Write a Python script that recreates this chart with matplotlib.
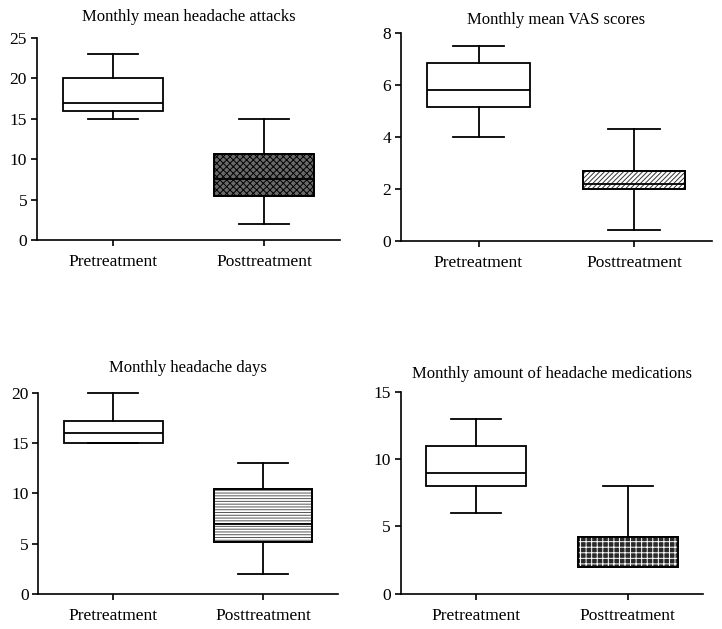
import matplotlib
matplotlib.use("Agg")
import matplotlib.pyplot as plt
from matplotlib.patches import PathPatch

plt.rcParams['font.family'] = ['Liberation Serif', 'DejaVu Serif']

groups = ['Pretreatment', 'Posttreatment']

titles = ['Monthly mean headache attacks', 'Monthly mean VAS scores',
          'Monthly headache days', 'Monthly amount of headache medications']

# per panel: [pre, post]
whislo = [[15, 2], [4.0, 0.4], [15, 2], [6, 2]]
q1 = [[16, 5.5], [5.15, 2.0], [15, 5.2], [8, 2]]
med = [[17, 7.6], [5.8, 2.2], [16, 7], [9, 2]]
q3 = [[20, 10.7], [6.85, 2.7], [17.25, 10.4], [11, 4.2]]
whishi = [[23, 15], [7.5, 4.3], [20, 13], [13, 8]]

yticks = [[0, 5, 10, 15, 20, 25], [0, 2, 4, 6, 8],
          [0, 5, 10, 15, 20], [0, 5, 10, 15]]

# axes rectangles in figure fraction
rects = [[0.051, 0.618, 0.420, 0.322],
         [0.555, 0.617, 0.431, 0.331],
         [0.053, 0.056, 0.415, 0.319],
         [0.555, 0.056, 0.419, 0.321]]
title_pads = [12, 6, 15, 10]

# post-treatment fill: (facecolor, hatch, hatch colour)
fills = [('#6a6a6a', 'xxxxx', 'black'),
         ('white', '///////', '#333333'),
         ('white', '------', '#555555'),
         ('#2a2a2a', '+++', 'white')]

fig = plt.figure(figsize=(7.22, 6.29), dpi=100)
plt.rcParams['hatch.linewidth'] = 0.7

for i in range(4):
    ax = fig.add_axes(rects[i])
    stats = []
    for j in range(2):
        stats.append(dict(med=med[i][j], q1=q1[i][j], q3=q3[i][j],
                          whislo=whislo[i][j], whishi=whishi[i][j],
                          label=groups[j]))
    lw = 1.3
    bp = ax.bxp(stats, positions=[1, 2], widths=0.66, capwidths=0.33,
                showfliers=False, patch_artist=True,
                boxprops=dict(facecolor='white', edgecolor='black', linewidth=lw),
                medianprops=dict(color='black', linewidth=lw),
                whiskerprops=dict(color='black', linewidth=lw),
                capprops=dict(color='black', linewidth=lw))
    for key in ('caps', 'whiskers', 'medians', 'boxes'):
        for art in bp[key]:
            art.set_clip_on(False)

    fc, hatch, hc = fills[i]
    box = bp['boxes'][1]
    box.set_facecolor(fc)
    hp = PathPatch(box.get_path(), transform=box.get_transform(),
                   facecolor='none', edgecolor=hc, hatch=hatch, linewidth=0,
                   zorder=box.get_zorder() + 0.1)
    ax.add_patch(hp)
    outline = PathPatch(box.get_path(), transform=box.get_transform(),
                        facecolor='none', edgecolor='black', linewidth=lw,
                        zorder=box.get_zorder() + 0.2)
    ax.add_patch(outline)
    for m in bp['medians']:
        m.set_zorder(box.get_zorder() + 0.3)

    ax.set_xlim(0.5, 2.5)
    ax.set_ylim(yticks[i][0], yticks[i][-1])
    ax.set_yticks(yticks[i])
    ax.set_xticks([1, 2])
    ax.set_xticklabels(groups)
    ax.spines['top'].set_visible(False)
    ax.spines['right'].set_visible(False)
    ax.spines['left'].set_linewidth(1.2)
    ax.spines['bottom'].set_linewidth(1.2)
    ax.tick_params(axis='both', direction='out', length=4, width=1.2,
                   labelsize=12.5)
    ax.tick_params(axis='y', pad=3)
    ax.tick_params(axis='x', pad=6)
    ax.set_title(titles[i], fontsize=12, pad=title_pads[i])

fig.savefig('out.png', dpi=100)
